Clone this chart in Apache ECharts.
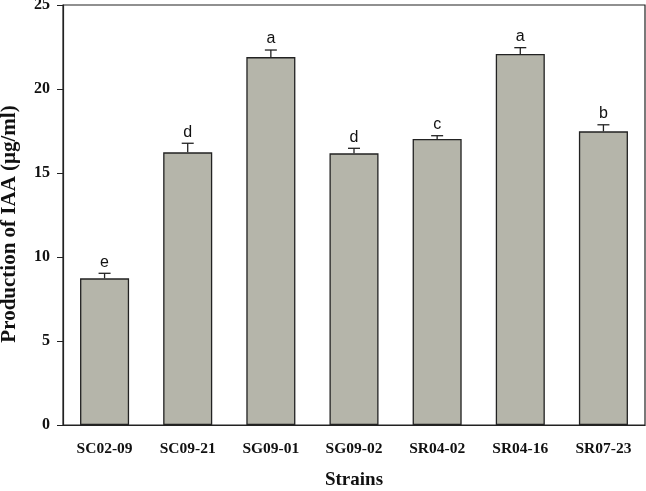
<!DOCTYPE html>
<html><head><meta charset="utf-8">
<script src="https://cdn.jsdelivr.net/npm/echarts@6/dist/echarts.min.js"></script>
<style>html,body{margin:0;padding:0;background:#fff}#c{width:646px;height:491px}</style>
</head><body><div id="c"></div>
<script>
const categories = ['SC02-09','SC09-21','SG09-01','SG09-02','SR04-02','SR04-16','SR07-23'];
const values = [8.73, 16.23, 21.9, 16.17, 17.02, 22.08, 17.48];
const errors = [0.3, 0.54, 0.42, 0.3, 0.2, 0.38, 0.39];
const letters = ['e','d','a','d','c','a','b'];
const yTicks = {min: 0, max: 25, interval: 5};

const chart = echarts.init(document.getElementById('c'));
const serif = 'Liberation Serif, Times New Roman, serif';
chart.setOption({
  animation: false,
  grid: {left: 63, right: 1, top: 5, bottom: 66, containLabel: false, outerBoundsMode: 'none',
         show: true, borderColor: '#222', borderWidth: 1.2, backgroundColor: 'transparent'},
  xAxis: {
    type: 'category', data: categories,
    name: 'Strains', nameLocation: 'middle', nameGap: 46,
    nameTextStyle: {fontFamily: serif, fontWeight: 'bold', fontSize: 19, color: '#111'},
    axisLine: {lineStyle: {color: '#222', width: 1.2}},
    axisTick: {alignWithLabel: true, length: 6, lineStyle: {color: '#222'}},
    axisLabel: {fontFamily: serif, fontWeight: 'bold', fontSize: 15.5, color: '#111', margin: 16}
  },
  yAxis: {
    type: 'value', min: yTicks.min, max: yTicks.max, interval: yTicks.interval,
    name: 'Production of IAA (μg/ml)', nameLocation: 'middle', nameGap: 43,
    nameTextStyle: {fontFamily: serif, fontWeight: 'bold', fontSize: 21, color: '#111', padding: [0, 18, 0, 0]},
    axisLine: {show: true, lineStyle: {color: '#222', width: 1.2}},
    axisTick: {show: true, length: 6, lineStyle: {color: '#222'}},
    splitLine: {show: false},
    axisLabel: {fontFamily: serif, fontWeight: 'bold', fontSize: 16, color: '#111', margin: 13}
  },
  series: [
    {
      type: 'bar', data: values, barWidth: '59%',
      itemStyle: {color: '#b5b5aa', borderColor: '#222', borderWidth: 1.3},
      z: 2
    },
    {
      type: 'custom', z: 3,
      data: values.map((v, i) => [i, v, errors[i], letters[i]]),
      renderItem: function (params, api) {
        const x = api.value(0), v = api.value(1), e = api.value(2);
        const p0 = api.coord([x, v]);
        const p1 = api.coord([x, v + e]);
        const hw = 6;
        return {
          type: 'group',
          children: [
            {type: 'line', shape: {x1: p0[0], y1: p0[1], x2: p1[0], y2: p1[1]}, style: {stroke: '#222', lineWidth: 1.3}},
            {type: 'line', shape: {x1: p1[0] - hw, y1: p1[1], x2: p1[0] + hw, y2: p1[1]}, style: {stroke: '#222', lineWidth: 1.3}},
            {type: 'text', x: p1[0], y: p1[1] - 3, style: {text: letters[params.dataIndex], fill: '#111', font: '16px Liberation Sans, Arial, sans-serif', textAlign: 'center', textVerticalAlign: 'bottom'}}
          ]
        };
      }
    }
  ]
});
</script></body></html>
